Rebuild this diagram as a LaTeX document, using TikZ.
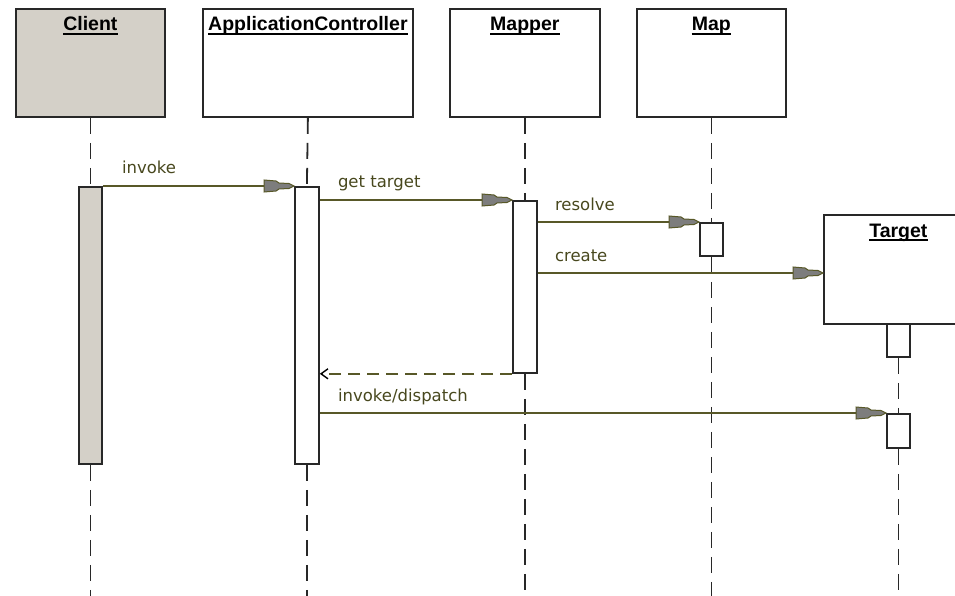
\documentclass[tikz,border=0pt]{standalone}
\usepackage{fontspec}
\setmainfont{Liberation Sans}
\newfontfamily\lblfont{DejaVu Sans}
\usetikzlibrary{arrows.meta,calc}
\definecolor{clientfill}{RGB}{212,208,200}
\definecolor{linecol}{RGB}{40,40,40}
\definecolor{msgcol}{RGB}{88,88,40}
\definecolor{txtcol}{RGB}{72,72,30}
\definecolor{arrfill}{RGB}{125,125,125}
\pgfdeclarearrow{
  name = UMLTip,
  setup code = {
    \pgfarrowssettipend{0pt}
    \pgfarrowssetlineend{-26pt}
    \pgfarrowssetvisualbackend{-30pt}
    \pgfarrowssetbackend{-30pt}
    \pgfarrowshullpoint{0pt}{0pt}
    \pgfarrowshullpoint{-30pt}{6pt}
    \pgfarrowshullpoint{-30pt}{-6pt}
  },
  drawing code = {
    \pgfsetlinewidth{1pt}
    \pgfpathmoveto{\pgfqpoint{0pt}{0pt}}
    \pgfpathlineto{\pgfqpoint{-5pt}{2.5pt}}
    \pgfpathlineto{\pgfqpoint{-15pt}{3pt}}
    \pgfpathlineto{\pgfqpoint{-18pt}{5pt}}
    \pgfpathlineto{\pgfqpoint{-30pt}{6pt}}
    \pgfpathlineto{\pgfqpoint{-30pt}{-6pt}}
    \pgfpathlineto{\pgfqpoint{-18pt}{-5pt}}
    \pgfpathlineto{\pgfqpoint{-15pt}{-3pt}}
    \pgfpathlineto{\pgfqpoint{-5pt}{-2.5pt}}
    \pgfpathclose
    \pgfusepathqfillstroke
  }
}
\tikzset{
  objbox/.style={draw=linecol, line width=1.8pt, fill=white, inner sep=0pt, anchor=north west},
  actbox/.style={draw=linecol, line width=1.8pt, fill=white, inner sep=0pt, anchor=north west},
  title/.style={font=\fontsize{19.5}{20}\selectfont\bfseries, text=black, inner sep=0pt, anchor=base},
  uline/.style={draw=black, line width=1.5pt},
  lbl/.style={font=\lblfont\fontsize{16.5}{18}\selectfont, text=txtcol, inner sep=0pt, anchor=base west},
  lifeline/.style={draw=linecol, line width=1.8pt, dash pattern=on 16pt off 9pt},
  msg/.style={draw=msgcol, line width=1.4pt, -{UMLTip[fill=arrfill]}},
  ret/.style={draw=msgcol, line width=1.4pt, dash pattern=on 12pt off 7pt, -{Straight Barb[length=7pt,width=10pt,color=black]}}
}
\begin{document}
\begin{tikzpicture}[x=1pt,y=-1pt]
\useasboundingbox (0,0) rectangle (955,596);
\clip (0,0) rectangle (955,596);
% object boxes
\node[objbox, fill=clientfill, minimum width=149pt, minimum height=108pt] (client) at (15,8) {};
\node[objbox, minimum width=210pt, minimum height=108pt] (app) at (202,8) {};
\node[objbox, minimum width=150pt, minimum height=108pt] (mapper) at (449,8) {};
\node[objbox, minimum width=149pt, minimum height=108pt] (map) at (636,8) {};
\node[objbox, minimum width=149pt, minimum height=109pt] (target) at (823,214) {};
% activations
\node[actbox, fill=clientfill, minimum width=23pt, minimum height=277pt] (clientAct) at (78,186) {};
\node[actbox, minimum width=24pt, minimum height=277pt] (appAct) at (294,186) {};
\node[actbox, minimum width=24pt, minimum height=172pt] (mapperAct) at (512,200) {};
\node[actbox, minimum width=23pt, minimum height=33pt] (mapAct) at (699,222) {};
\node[actbox, minimum width=23pt, minimum height=33pt] (tAct1) at (886,323) {};
\node[actbox, minimum width=23pt, minimum height=34pt] (tAct2) at (886,413) {};
\coordinate (bottom) at (0,600);
% lifelines
\draw[lifeline] (client.south) -- (clientAct.north);
\draw[lifeline] (clientAct.south) -- (clientAct.south |- bottom);
\draw[lifeline] (app.south) -- (appAct.north);
\draw[lifeline] (appAct.south) -- (appAct.south |- bottom);
\draw[lifeline] (mapper.south) -- (mapperAct.north);
\draw[lifeline] (mapperAct.south) -- (mapperAct.south |- bottom);
\draw[lifeline] (map.south) -- (mapAct.north);
\draw[lifeline] (mapAct.south) -- (mapAct.south |- bottom);
\draw[lifeline] (tAct1.south) -- (tAct2.north);
\draw[lifeline] (tAct2.south) -- (tAct2.south |- bottom);
% titles
\foreach \o/\t in {client/Client, app/ApplicationController, mapper/Mapper, map/Map, target/Target}{
  \node[title] (\o T) at ($(\o.north)+(0,23)$) {\t};
  \draw[uline] ($(\o T.base west)+(0,3)$) -- ($(\o T.base east)+(0,3)$);
}
% messages
\coordinate (createY) at (0,273);
\draw[msg] (clientAct.north east) -- (appAct.north west);
\draw[msg] (appAct.east |- mapperAct.north) -- (mapperAct.north west);
\draw[msg] (mapperAct.east |- mapAct.north) -- (mapAct.north west);
\draw[msg] (mapperAct.east |- createY) -- (target.west |- createY);
\draw[ret] (mapperAct.south west) -- (appAct.east |- mapperAct.south);
\draw[msg] (appAct.east |- tAct2.north) -- (tAct2.north west);
% labels
\node[lbl] (lInvoke) at ($(clientAct.north east)+(19,-12)$) {invoke};
\node[lbl] (lGet) at ($(appAct.east |- mapperAct.north)+(18,-12)$) {get target};
\node[lbl] (lResolve) at ($(mapperAct.east |- mapAct.north)+(17,-12)$) {resolve};
\node[lbl] (lCreate) at ($(mapperAct.east |- createY)+(17,-12)$) {create};
\node[lbl] (lDispatch) at ($(appAct.east |- tAct2.north)+(18,-12)$) {invoke/dispatch};
\end{tikzpicture}
\end{document}
